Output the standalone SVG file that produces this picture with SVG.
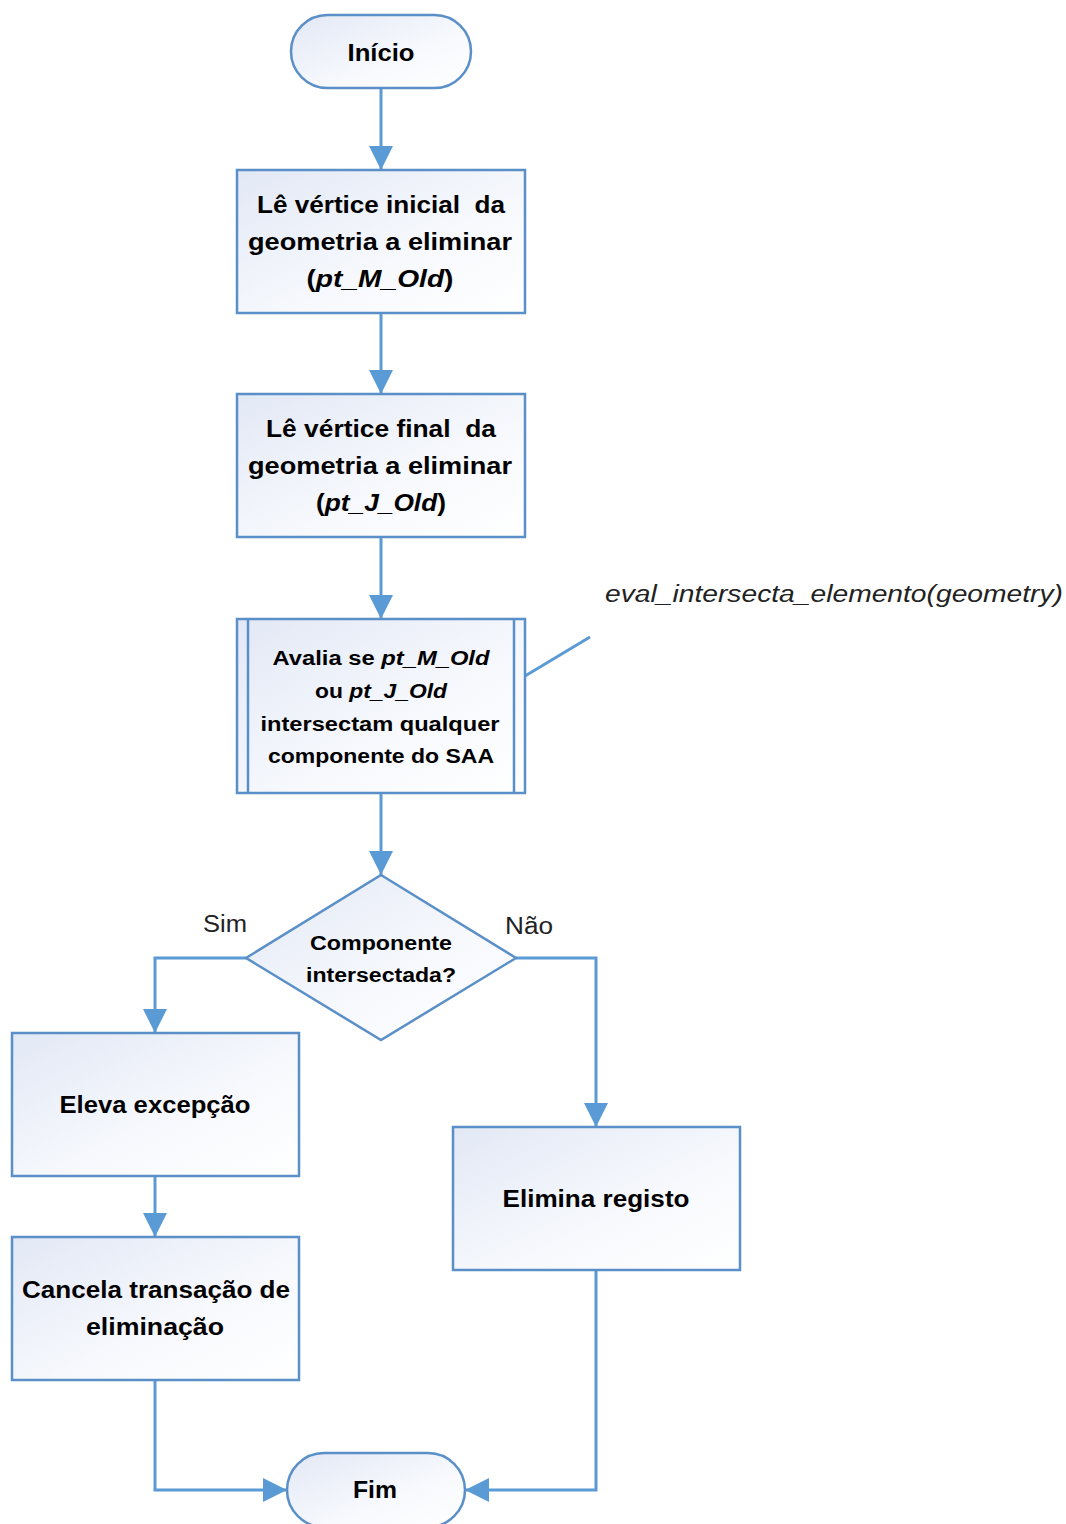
<svg xmlns="http://www.w3.org/2000/svg" width="1066" height="1524" viewBox="0 0 1066 1524">
  <defs>
    <linearGradient id="fillGrad" x1="0" y1="0" x2="1" y2="1">
      <stop offset="0" stop-color="#e2e8f5"/>
      <stop offset="0.6" stop-color="#f7f9fd"/>
      <stop offset="1" stop-color="#ffffff"/>
    </linearGradient>
    <marker id="arrow" viewBox="0 0 24 24" refX="24" refY="12" markerWidth="24" markerHeight="24" markerUnits="userSpaceOnUse" orient="auto">
      <path d="M0,0 L24,12 L0,24 Z" fill="#5b9bd5"/>
    </marker>
    <style>
      .shape { fill: url(#fillGrad); stroke: #5a8fc8; stroke-width: 2.5; }
      .inner { fill: none; stroke: #5a8fc8; stroke-width: 2.5; }
      .conn { fill: none; stroke: #5b9bd5; stroke-width: 3; }
      .lbl { font-family: "Liberation Sans", Arial, sans-serif; font-weight: bold; fill: #000; text-anchor: middle; }
      .big { font-size: 23px; }
      .small { font-size: 20px; }
      .note { font-family: "Liberation Sans", Arial, sans-serif; font-size: 23px; fill: #222; }
      .it { font-style: italic; }
      .pre { white-space: pre; }
    </style>
  </defs>

  <!-- connectors -->
  <g id="connectors">
    <path class="conn" d="M381,88 V170" marker-end="url(#arrow)"/>
    <path class="conn" d="M381,313 V394" marker-end="url(#arrow)"/>
    <path class="conn" d="M381,537 V619" marker-end="url(#arrow)"/>
    <path class="conn" d="M381,793 V875" marker-end="url(#arrow)"/>
    <path class="conn" d="M246,958 H155 V1033" marker-end="url(#arrow)"/>
    <path class="conn" d="M516,958 H596 V1127" marker-end="url(#arrow)"/>
    <path class="conn" d="M155,1176 V1237" marker-end="url(#arrow)"/>
    <path class="conn" d="M155,1380 V1490 H287" marker-end="url(#arrow)"/>
    <path class="conn" d="M596,1270 V1490 H465" marker-end="url(#arrow)"/>
    <path class="conn" d="M525,676 L590,637"/>
  </g>

  <g id="inicio">
    <rect class="shape" x="291" y="15" width="180" height="73" rx="36.5" ry="36.5"/>
    <text class="lbl big" x="381" y="61" textLength="67" lengthAdjust="spacingAndGlyphs">Início</text>
  </g>

  <g id="le-inicial">
    <rect class="shape" x="237" y="170" width="288" height="143"/>
    <text class="lbl big pre" xml:space="preserve" x="381" y="213" textLength="248" lengthAdjust="spacingAndGlyphs">Lê vértice inicial  da</text>
    <text class="lbl big" x="380" y="250" textLength="264" lengthAdjust="spacingAndGlyphs">geometria a eliminar</text>
    <text class="lbl big" x="380" y="287" textLength="147" lengthAdjust="spacingAndGlyphs">(<tspan class="it">pt_M_Old</tspan>)</text>
  </g>

  <g id="le-final">
    <rect class="shape" x="237" y="394" width="288" height="143"/>
    <text class="lbl big pre" xml:space="preserve" x="381" y="437" textLength="230" lengthAdjust="spacingAndGlyphs">Lê vértice final  da</text>
    <text class="lbl big" x="380" y="474" textLength="264" lengthAdjust="spacingAndGlyphs">geometria a eliminar</text>
    <text class="lbl big" x="381" y="511" textLength="130" lengthAdjust="spacingAndGlyphs">(<tspan class="it">pt_J_Old</tspan>)</text>
  </g>

  <g id="avalia">
    <rect class="shape" x="237" y="619" width="288" height="174"/>
    <line class="inner" x1="248" y1="619" x2="248" y2="793"/>
    <line class="inner" x1="514" y1="619" x2="514" y2="793"/>
    <text class="lbl small" x="381" y="665" textLength="217" lengthAdjust="spacingAndGlyphs">Avalia se <tspan class="it">pt_M_Old</tspan></text>
    <text class="lbl small" x="381" y="698" textLength="132" lengthAdjust="spacingAndGlyphs">ou <tspan class="it">pt_J_Old</tspan></text>
    <text class="lbl small" x="380" y="731" textLength="239" lengthAdjust="spacingAndGlyphs">intersectam qualquer</text>
    <text class="lbl small" x="381" y="763" textLength="226" lengthAdjust="spacingAndGlyphs">componente do SAA</text>
  </g>

  <g id="nota">
    <text class="note it" x="605" y="602" textLength="458" lengthAdjust="spacingAndGlyphs">eval_intersecta_elemento(geometry)</text>
  </g>

  <g id="decisao">
    <polygon class="shape" points="381,875 516,958 381,1040 246,958"/>
    <text class="lbl small" x="381" y="950" textLength="142" lengthAdjust="spacingAndGlyphs">Componente</text>
    <text class="lbl small" x="381" y="982" textLength="150" lengthAdjust="spacingAndGlyphs">intersectada?</text>
  </g>

  <g id="rotulos">
    <text class="note" x="203" y="932" textLength="44" lengthAdjust="spacingAndGlyphs">Sim</text>
    <text class="note" x="505" y="934" textLength="48" lengthAdjust="spacingAndGlyphs">Não</text>
  </g>

  <g id="eleva">
    <rect class="shape" x="12" y="1033" width="287" height="143"/>
    <text class="lbl big" x="155" y="1113" textLength="191" lengthAdjust="spacingAndGlyphs">Eleva excepção</text>
  </g>

  <g id="cancela">
    <rect class="shape" x="12" y="1237" width="287" height="143"/>
    <text class="lbl big" x="156" y="1298" textLength="268" lengthAdjust="spacingAndGlyphs">Cancela transação de</text>
    <text class="lbl big" x="155" y="1335" textLength="138" lengthAdjust="spacingAndGlyphs">eliminação</text>
  </g>

  <g id="elimina">
    <rect class="shape" x="453" y="1127" width="287" height="143"/>
    <text class="lbl big" x="596" y="1207" textLength="187" lengthAdjust="spacingAndGlyphs">Elimina registo</text>
  </g>

  <g id="fim">
    <rect class="shape" x="287" y="1453" width="178" height="74" rx="37" ry="37"/>
    <text class="lbl big" x="375" y="1498" textLength="44" lengthAdjust="spacingAndGlyphs">Fim</text>
  </g>
</svg>
